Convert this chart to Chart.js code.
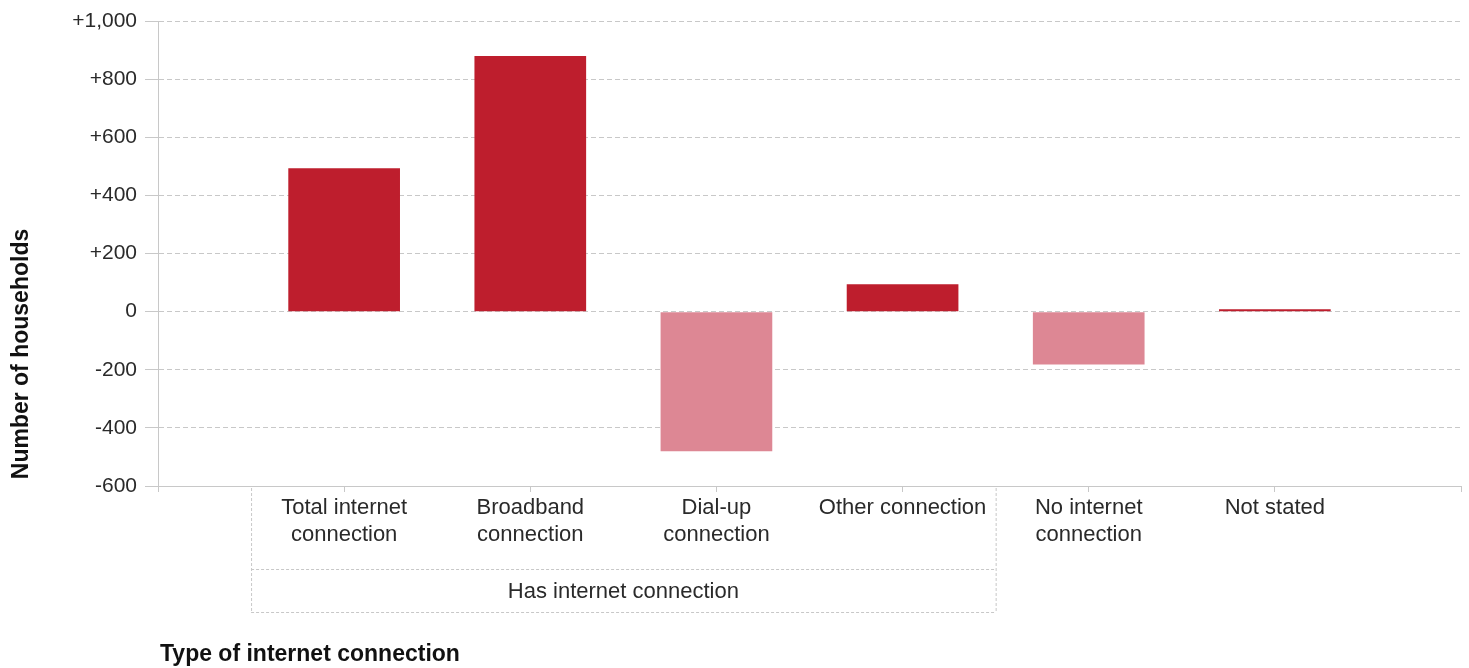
<!DOCTYPE html>
<html>
<head>
<meta charset="utf-8">
<script src="https://cdn.jsdelivr.net/npm/chart.js@4/dist/chart.umd.min.js"></script>
<style>
  html, body { margin: 0; padding: 0; background: #fff; }
  #wrap { width: 1469px; height: 668px; }
</style>
</head>
<body>
<div id="wrap"><canvas id="ConnChart"></canvas></div>
<script>
// data
const categories = [
    ["Total internet", "connection"],
    ["Broadband", "connection"],
    ["Dial-up", "connection"],
    ["Other connection"],
    ["No internet", "connection"],
    ["Not stated"],
];
const changes = [493, 880, -480, 94, -182, 8];
const yTicks = [-600, -400, -200, 0, 200, 400, 600, 800, 1000];
const groupLabel = "Has internet connection";
const groupFrom = 0, groupTo = 3; // index into categories
const xTitle = "Type of internet connection";
const yTitle = "Number of households";

const POS = "#BE1E2D";
const NEG = "#DD8794";
const FONT = "'Liberation Sans', Arial, sans-serif";

// empty slot each side so bars sit on the tick marks
const labels = [""].concat(categories, [""]);
const values = [null].concat(changes, [null]);

function fmt(v) {
    if (v === 0) return "0";
    const s = Math.abs(v).toLocaleString("en-US");
    return (v > 0 ? "+" : "-") + s;
}

const extras = {
    id: "extras",
    afterDraw(chart) {
        const c = chart.ctx;
        const x = chart.scales.x;
        const area = chart.chartArea;
        const step = x.getPixelForValue(2) - x.getPixelForValue(1);
        const left = x.getPixelForValue(groupFrom + 1) - step / 2;
        const right = x.getPixelForValue(groupTo + 1) + step / 2;
        const top = area.bottom + 2;
        const mid = area.bottom + 83;
        const bot = area.bottom + 126;

        c.save();
        c.strokeStyle = "#c8c8c8";
        c.lineWidth = 1;
        c.setLineDash([3, 2]);
        c.beginPath();
        c.moveTo(left + 0.5, top); c.lineTo(left + 0.5, bot);
        c.moveTo(right + 0.5, top); c.lineTo(right + 0.5, bot);
        c.moveTo(left, mid + 0.5); c.lineTo(right, mid + 0.5);
        c.moveTo(left, bot + 0.5); c.lineTo(right, bot + 0.5);
        c.stroke();
        c.setLineDash([]);

        c.fillStyle = "#2a2a2a";
        c.font = "22px " + FONT;
        c.textAlign = "center";
        c.textBaseline = "middle";
        c.fillText(groupLabel, (left + right) / 2, (mid + bot) / 2 + 1);

        c.fillStyle = "#111";
        c.font = "bold 23px " + FONT;
        c.textAlign = "left";
        c.fillText(xTitle, area.left + 2, 655);

        c.translate(22, 354);
        c.rotate(-Math.PI / 2);
        c.textAlign = "center";
        c.fillText(yTitle, 0, 0);
        c.restore();
    },
};

function ConnChart() {
    const ctx = document.getElementById("ConnChart");

    new Chart(ctx, {
        type: "bar",
        data: {
            labels: labels,
            datasets: [
                {
                    label: "Change",
                    data: values,
                    backgroundColor: values.map((v) => (v < 0 ? NEG : POS)),
                    borderWidth: 0,
                    barPercentage: 0.6,
                    categoryPercentage: 1,
                },
            ],
        },
        options: {
            responsive: true,
            maintainAspectRatio: false,
            animation: false,
            layout: {
                padding: { top: 21, right: 8, bottom: 0, left: 0 },
            },
            plugins: {
                legend: { display: false },
                tooltip: { enabled: false },
            },
            scales: {
                x: {
                    offset: false,
                    grid: {
                        offset: false,
                        drawOnChartArea: false,
                        drawTicks: true,
                        tickLength: 6,
                        color: "#c8c8c8",
                    },
                    border: { color: "#c8c8c8" },
                    ticks: {
                        autoSkip: false,
                        maxRotation: 0,
                        padding: 3,
                        color: "#2a2a2a",
                        font: { family: FONT, size: 22, lineHeight: 1.2 },
                    },
                    afterFit(scale) {
                        scale.height = 182;
                    },
                },
                y: {
                    min: yTicks[0],
                    max: yTicks[yTicks.length - 1],
                    afterBuildTicks(scale) {
                        scale.ticks = yTicks.map((v) => ({ value: v }));
                    },
                    grid: {
                        color: "#c8c8c8",
                        tickLength: 13,
                        tickColor: "#c8c8c8",
                    },
                    border: { color: "#c8c8c8", dash: [5, 3] },
                    ticks: {
                        padding: 8,
                        color: "#2a2a2a",
                        font: { family: FONT, size: 21 },
                        callback: (v) => fmt(v),
                    },
                    afterFit(scale) {
                        scale.width = 158;
                    },
                },
            },
        },
        plugins: [extras],
    });
}

ConnChart();
</script>
</body>
</html>
